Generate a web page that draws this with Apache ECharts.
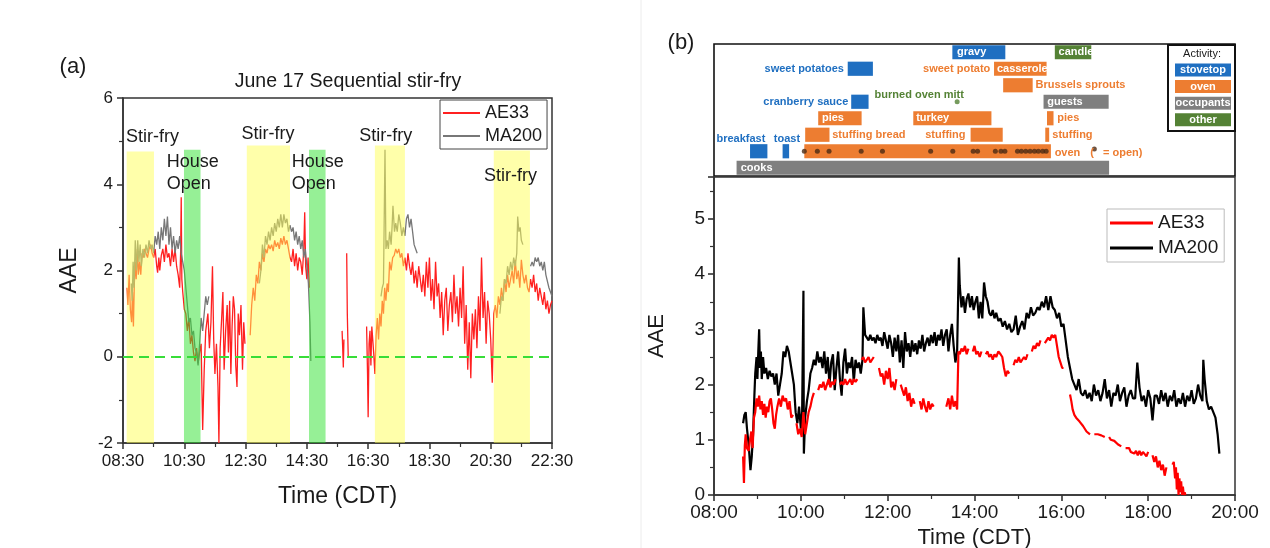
<!DOCTYPE html>
<html>
<head>
<meta charset="utf-8">
<script src="https://cdn.jsdelivr.net/npm/echarts@6/dist/echarts.min.js"></script>
<style>
html,body{margin:0;padding:0;background:#fff;}
#chart{width:1270px;height:548px;}
</style>
</head>
<body>
<div id="chart"></div>
<script>
// ---------- Panel (a): June 17 sequential stir-fry, [clock hour, AAE] ----------
const ae33A = [
[8.63,1.6],[8.66,1.2],[8.70,1.9],[8.74,1.1],[8.78,0.8],[8.81,1.5],[8.84,0.7],[8.87,1.7],[8.90,2.2],[8.93,1.8],
[8.97,2.5],[9.00,1.9],[9.04,2.2],[9.08,1.9],[9.12,2.4],[9.16,2.3],[9.20,2.5],[9.25,2.4],[9.30,2.3],[9.35,2.5],
[9.40,2.6],[9.45,2.4],[9.50,2.3],[9.55,2.5],[9.60,2.1],[9.63,1.95],[9.67,2.3],[9.70,2.0],[9.75,2.35],[9.80,2.5],
[9.85,2.2],[9.90,2.6],[9.95,2.3],[10.00,2.4],[10.05,2.1],[10.10,2.5],[10.15,2.2],[10.20,2.5],[10.25,2.1],[10.30,1.9],
[10.35,1.6],[10.38,2.4],[10.40,3.7],[10.42,1.8],[10.45,1.5],[10.50,1.1],[10.55,1.0],[10.60,0.6],[10.65,0.9],[10.70,0.3],
[10.75,0.5],[10.80,0.1],[10.85,-0.1],[10.90,0.2],[10.95,-0.15],[11.00,0.1],[11.05,0.3],[11.10,-1.7],[11.15,-0.3],[11.20,0.6],
[11.27,1.0],[11.32,0.2],[11.37,0.8],[11.42,2.1],[11.46,0.4],[11.50,-0.4],[11.55,0.3],[11.60,-0.7],[11.63,-2.0],[11.67,0.2],
[11.72,0.9],[11.76,1.5],[11.80,-0.3],[11.85,0.6],[11.90,1.2],[11.94,0.1],[11.98,1.3],[12.02,-0.4],[12.06,0.7],[12.10,1.4],
[12.14,1.1],[12.18,-0.2],[12.22,-0.7],[12.26,1.0],[12.30,0.5],[12.35,1.2],[12.40,-0.3],[12.44,0.8],[12.48,0.3],[12.52,null],
[12.65,0.5],[12.70,1.2],[12.75,1.6],[12.80,1.3],[12.85,1.9],[12.90,1.7],[12.95,2.2],[13.00,2.0],[13.05,2.4],[13.10,2.2],
[13.15,2.5],[13.20,2.4],[13.25,2.6],[13.30,2.5],[13.35,2.6],[13.40,2.45],[13.45,2.7],[13.50,2.55],[13.55,2.65],[13.60,2.5],
[13.65,2.75],[13.70,2.6],[13.75,2.8],[13.80,2.6],[13.85,2.7],[13.90,2.5],[13.95,2.3],[14.00,2.2],[14.05,2.5],[14.10,2.1],
[14.15,2.4],[14.20,2.0],[14.25,2.3],[14.30,2.2],[14.35,1.9],[14.40,2.5],[14.43,3.35],[14.46,2.1],[14.50,1.8],[14.54,2.3],
[14.58,1.6],[14.60,null],
[15.65,0.6],[15.67,0.2],[15.69,-0.25],[15.71,0.4],[15.73,null],
[15.80,2.4],[15.82,1.0],[15.85,0.0],[15.87,null],
[16.45,0.7],[16.48,-0.4],[16.50,-1.4],[16.53,0.3],[16.56,0.6],[16.59,-0.2],[16.62,0.7],[16.65,0.4],[16.68,0.1],[16.72,-0.4],
[16.76,0.5],[16.80,0.9],[16.84,0.4],[16.88,1.0],[16.92,0.7],[16.96,1.3],[17.00,1.0],[17.04,1.6],[17.08,1.3],[17.12,1.7],
[17.16,1.5],[17.20,2.2],[17.25,2.0],[17.30,2.3],[17.35,2.35],[17.40,2.5],[17.45,2.4],[17.50,2.5],[17.55,2.3],[17.60,2.4],
[17.65,2.1],[17.70,2.3],[17.75,2.0],[17.80,2.4],[17.85,2.1],[17.90,1.9],[17.95,2.2],[18.00,1.7],[18.05,2.0],[18.10,1.6],
[18.15,2.1],[18.20,1.8],[18.25,1.5],[18.30,1.9],[18.35,1.4],[18.40,2.2],[18.45,1.6],[18.50,2.3],[18.55,1.3],[18.60,1.8],
[18.65,1.1],[18.70,2.2],[18.75,1.4],[18.80,1.7],[18.85,0.9],[18.90,1.5],[18.95,0.5],[19.00,1.3],[19.05,1.6],[19.10,0.6],
[19.15,1.2],[19.20,1.5],[19.25,0.8],[19.30,1.9],[19.35,1.0],[19.40,1.4],[19.45,0.7],[19.50,1.6],[19.55,0.9],[19.60,2.1],
[19.65,0.3],[19.70,1.2],[19.75,-0.3],[19.80,0.8],[19.85,-0.5],[19.90,1.0],[19.95,0.4],[20.00,1.1],[20.05,0.2],[20.10,1.4],
[20.15,0.6],[20.20,2.3],[20.25,0.9],[20.30,1.5],[20.35,0.3],[20.40,1.3],[20.45,1.0],[20.50,0.4],[20.55,-0.6],[20.60,1.0],
[20.65,1.2],[20.70,0.9],[20.75,1.4],[20.80,1.2],[20.85,1.6],[20.90,1.3],[20.95,1.8],[21.00,1.5],[21.05,1.9],[21.10,1.6],
[21.15,1.8],[21.20,2.0],[21.25,1.7],[21.30,2.25],[21.35,1.8],[21.40,2.0],[21.45,1.6],[21.50,2.25],[21.55,1.9],[21.60,1.7],
[21.65,1.9],[21.70,1.6],[21.75,1.5],[21.80,1.8],[21.85,1.6],[21.90,1.9],[21.95,1.5],[22.00,1.7],[22.05,1.3],[22.10,1.6],
[22.15,1.4],[22.20,1.2],[22.25,1.5],[22.30,1.1],[22.35,1.3],[22.40,1.0],[22.45,1.2],[22.50,1.3]
];

const ma200A = [
[8.77,1.7],[8.80,1.3],[8.83,2.2],[8.86,1.6],[8.90,2.7],[8.94,2.0],[8.98,2.7],[9.02,2.2],[9.06,2.6],[9.10,2.1],
[9.15,2.5],[9.20,2.3],[9.25,2.6],[9.30,2.4],[9.35,2.7],[9.40,2.5],[9.45,2.6],[9.50,2.4],[9.55,2.8],[9.60,2.6],
[9.65,2.9],[9.70,2.5],[9.75,3.0],[9.80,2.7],[9.85,3.2],[9.90,2.8],[9.95,3.25],[10.00,2.6],[10.05,3.0],[10.10,2.5],
[10.15,2.8],[10.20,2.4],[10.25,2.7],[10.30,2.5],[10.35,2.8],[10.40,2.4],[10.45,2.2],[10.50,2.0],[10.55,2.0],[10.60,1.2],
[10.65,0.8],[10.70,0.9],[10.75,0.5],[10.80,0.6],[10.85,0.2],[10.90,0.1],[10.95,-0.2],[11.00,0.3],[11.05,0.9],[11.10,0.6],
[11.15,1.0],[11.20,1.4],[11.25,1.2],[11.30,1.4],[11.32,null],
[12.95,1.7],[13.00,2.0],[13.05,2.6],[13.10,2.3],[13.15,2.8],[13.20,2.6],[13.25,2.9],[13.30,2.7],[13.35,3.0],[13.40,2.8],
[13.45,3.1],[13.50,2.9],[13.55,3.2],[13.60,3.0],[13.65,3.3],[13.70,3.0],[13.75,3.3],[13.80,3.1],[13.85,3.2],[13.90,2.9],
[13.95,3.05],[14.00,2.9],[14.05,3.0],[14.10,2.7],[14.15,2.9],[14.20,2.6],[14.25,2.8],[14.30,2.5],[14.35,2.7],[14.40,2.3],
[14.45,2.5],[14.50,2.1],[14.55,1.7],[14.60,0.8],[14.63,-0.1],[14.65,null],
[16.92,1.4],[16.96,1.6],[17.00,1.7],[17.05,4.8],[17.08,2.5],[17.12,2.7],[17.16,2.5],[17.20,2.9],[17.25,2.6],[17.28,3.0],
[17.31,3.5],[17.36,2.9],[17.40,3.1],[17.45,2.9],[17.50,3.3],[17.55,3.1],[17.60,2.8],[17.65,3.0],[17.70,2.8],[17.75,3.2],
[17.80,3.3],[17.85,3.0],[17.90,3.2],[17.95,2.9],[18.00,2.6],[18.05,2.5],[18.10,2.4],[18.12,null],
[20.80,1.0],[20.85,1.4],[20.90,1.3],[20.95,1.8],[21.00,1.7],[21.05,2.1],[21.10,1.9],[21.15,2.2],[21.20,2.0],[21.25,2.3],
[21.30,2.1],[21.35,2.4],[21.38,3.25],[21.42,2.9],[21.46,3.0],[21.50,2.7],[21.55,2.6],[21.57,null],
[21.80,2.1],[21.85,2.2],[21.90,2.1],[21.95,2.3],[22.00,2.2],[22.05,2.3],[22.10,2.1],[22.15,2.2],[22.20,2.0],[22.25,2.2],
[22.30,1.9],[22.40,1.6],[22.45,1.5],[22.50,1.4]
];

// shaded periods: [start hour, end hour, top AAE, kind]
const periodsA = [
[8.62, 9.51, 4.76, 'stir'],
[10.49, 11.03, 4.80, 'open'],
[12.54, 13.95, 4.90, 'stir'],
[14.57, 15.11, 4.80, 'open'],
[16.72, 17.70, 4.90, 'stir'],
[20.60, 21.78, 4.78, 'stir']
];

// period captions: [hour, AAE, text]
const notesA = [
[8.60, 5.09, 'Stir-fry'],
[9.93, 4.26, 'House\nOpen'],
[12.37, 5.16, 'Stir-fry'],
[14.01, 4.26, 'House\nOpen'],
[16.21, 5.11, 'Stir-fry'],
[20.28, 4.18, 'Stir-fry']
];

// ---------- Panel (b): Thanksgiving cooking day ----------
const ae33B = [
[8.67,0.7],[8.69,0.22],[8.71,0.9],[8.73,1.1],[8.76,0.85],[8.80,0.8],[8.83,1.0],[8.86,1.15],[8.89,0.85],[8.92,1.4],
[8.95,1.5],[8.98,1.75],[9.01,1.6],[9.04,1.8],[9.07,1.55],[9.10,1.7],[9.13,1.45],[9.16,1.65],[9.19,1.4],[9.22,1.6],
[9.25,1.5],[9.28,1.7],[9.31,1.75],[9.34,1.55],[9.37,1.3],[9.40,1.2],[9.43,1.45],[9.46,1.6],[9.50,1.75],[9.54,1.6],
[9.58,1.8],[9.62,1.7],[9.66,1.75],[9.70,1.55],[9.74,1.7],[9.78,1.4],[9.82,1.45],[9.86,null],[9.90,1.3],[9.94,1.1],
[9.98,1.2],[10.02,1.05],[10.06,1.5],[10.10,1.1],[10.14,1.3],[10.18,1.5],[10.22,1.6],[10.26,1.75],[10.30,1.85],[10.34,null],
[10.40,1.9],[10.44,2.0],[10.48,1.95],[10.52,2.05],[10.56,1.9],[10.60,2.0],[10.64,2.1],[10.68,1.95],[10.72,2.05],[10.76,2.0],
[10.80,2.1],[10.84,null],[10.90,2.0],[10.94,2.05],[10.98,2.0],[11.02,2.1],[11.06,2.0],[11.10,2.05],[11.14,2.1],[11.18,2.0],
[11.22,2.1],[11.26,2.05],[11.30,2.1],[11.34,null],[11.40,2.45],[11.44,2.5],[11.48,2.4],[11.52,2.45],[11.56,2.5],[11.60,2.4],
[11.64,2.45],[11.68,2.5],[11.72,null],[11.80,2.3],[11.84,2.15],[11.88,2.2],[11.92,2.0],[11.96,2.25],[12.00,2.1],[12.04,2.3],
[12.08,1.95],[12.12,2.05],[12.16,1.9],[12.20,2.1],[12.24,null],[12.30,2.0],[12.34,1.9],[12.38,1.8],[12.42,1.95],[12.46,1.7],
[12.50,1.85],[12.54,1.6],[12.58,1.75],[12.62,1.65],[12.66,null],[12.74,1.7],[12.78,1.55],[12.82,1.75],[12.86,1.6],[12.90,1.5],
[12.94,1.7],[12.98,1.55],[13.02,1.65],[13.06,1.6],[13.10,null],[13.35,1.6],[13.40,1.75],[13.44,1.55],[13.48,1.8],[13.52,1.6],
[13.56,1.7],[13.60,1.55],[13.63,2.6],[13.66,2.55],[13.70,2.65],[13.74,2.6],[13.78,2.7],[13.82,2.55],[13.86,2.65],[13.90,null],
[13.96,2.6],[14.00,2.7],[14.04,2.55],[14.08,2.6],[14.12,2.5],[14.16,2.6],[14.20,null],[14.26,2.55],[14.30,2.6],[14.34,2.5],
[14.38,2.55],[14.42,2.45],[14.46,2.55],[14.50,2.5],[14.55,2.6],[14.60,2.55],[14.64,2.5],[14.68,2.3],[14.72,2.15],[14.76,2.25],
[14.80,2.2],[14.84,null],[14.90,2.35],[14.94,2.45],[14.98,2.4],[15.02,2.5],[15.06,2.4],[15.10,2.45],[15.14,2.5],[15.18,2.45],
[15.22,2.55],[15.26,null],[15.32,2.6],[15.36,2.7],[15.40,2.65],[15.44,2.75],[15.48,2.7],[15.52,2.8],[15.56,null],[15.62,2.75],
[15.66,2.8],[15.70,2.85],[15.74,2.8],[15.78,2.9],[15.82,2.85],[15.86,2.9],[15.90,2.7],[15.94,2.5],[15.98,2.4],[16.02,2.3],
[16.05,2.3],[16.07,null],[16.20,1.82],[16.23,1.7],[16.26,1.55],[16.30,1.45],[16.34,1.4],[16.38,1.38],[16.42,1.33],[16.46,1.3],
[16.50,1.25],[16.54,1.2],[16.58,1.15],[16.62,1.12],[16.66,1.1],[16.70,null],[16.76,1.1],[16.80,1.12],[16.84,1.1],[16.88,1.1],
[16.92,1.08],[16.96,1.1],[17.00,1.05],[17.04,null],[17.10,1.05],[17.14,1.0],[17.18,1.02],[17.22,0.98],[17.26,0.95],[17.30,0.92],
[17.34,0.9],[17.38,0.88],[17.42,null],[17.48,0.85],[17.52,0.82],[17.56,0.85],[17.60,0.78],[17.64,0.8],[17.68,0.75],[17.72,0.8],
[17.76,0.72],[17.80,0.8],[17.84,0.72],[17.88,0.78],[17.92,0.75],[17.96,0.7],[18.00,0.78],[18.04,null],[18.10,0.72],[18.14,0.6],
[18.18,0.7],[18.22,0.5],[18.26,0.62],[18.30,0.45],[18.34,0.55],[18.38,0.35],[18.42,0.5],[18.46,null],[18.56,0.55],[18.59,0.6],
[18.62,0.3],[18.64,0.5],[18.66,0.1],[18.68,0.4],[18.70,0.0],[18.72,0.3],[18.74,0.05],[18.76,0.25],[18.78,0.0],[18.80,0.15],
[18.82,0.0],[18.84,0.05],[18.86,0.0]
];

const ma200B = [
[8.67,1.3],[8.70,1.45],[8.73,1.5],[8.76,1.2],[8.80,0.9],[8.84,0.45],[8.87,0.7],[8.90,1.1],[8.93,1.8],[8.95,2.2],
[8.98,2.5],[9.00,2.1],[9.02,2.6],[9.04,3.0],[9.06,2.3],[9.08,2.6],[9.10,2.1],[9.13,2.5],[9.16,2.2],[9.20,2.3],
[9.24,2.1],[9.28,2.25],[9.32,2.15],[9.36,2.2],[9.40,2.0],[9.44,2.2],[9.48,1.8],[9.52,2.0],[9.56,2.2],[9.60,2.6],
[9.64,2.5],[9.68,2.7],[9.72,2.6],[9.76,2.4],[9.80,2.2],[9.84,2.0],[9.88,1.5],[9.92,1.3],[9.96,1.6],[10.00,1.2],
[10.03,1.5],[10.06,3.7],[10.07,0.75],[10.10,1.4],[10.14,1.7],[10.18,1.9],[10.22,2.2],[10.26,2.3],[10.30,2.45],[10.34,2.35],
[10.38,2.6],[10.42,2.4],[10.46,2.5],[10.50,2.3],[10.54,2.6],[10.58,2.2],[10.62,2.5],[10.66,2.0],[10.70,2.4],[10.74,2.55],
[10.78,1.9],[10.82,2.3],[10.86,2.6],[10.90,2.1],[10.94,1.8],[10.98,2.4],[11.02,2.65],[11.06,2.2],[11.10,2.4],[11.14,2.3],
[11.18,2.5],[11.22,2.05],[11.26,2.45],[11.30,2.3],[11.34,2.4],[11.38,2.2],[11.42,2.45],[11.44,3.4],[11.48,2.9],[11.52,2.85],
[11.56,2.8],[11.60,2.9],[11.64,2.8],[11.68,2.85],[11.72,2.75],[11.76,2.9],[11.80,2.8],[11.84,2.85],[11.88,2.7],[11.92,2.95],
[11.96,2.8],[12.00,2.65],[12.04,2.9],[12.08,2.75],[12.12,2.5],[12.16,2.85],[12.20,2.6],[12.24,2.9],[12.28,2.4],[12.32,2.8],
[12.36,2.3],[12.40,2.95],[12.44,2.6],[12.48,2.75],[12.52,2.5],[12.56,2.8],[12.60,2.6],[12.64,2.75],[12.68,2.55],[12.72,2.8],
[12.76,2.65],[12.80,2.9],[12.84,2.6],[12.88,2.75],[12.92,2.85],[12.96,2.7],[13.00,2.9],[13.04,2.75],[13.08,2.95],[13.12,2.7],
[13.16,2.9],[13.20,2.8],[13.24,3.0],[13.28,2.7],[13.32,2.9],[13.36,3.0],[13.40,2.6],[13.44,2.9],[13.48,3.1],[13.52,2.7],
[13.56,2.4],[13.60,2.6],[13.64,4.3],[13.66,3.8],[13.70,3.4],[13.74,3.6],[13.78,3.3],[13.82,3.55],[13.86,3.65],[13.90,3.4],
[13.94,3.6],[13.98,3.35],[14.02,3.5],[14.06,3.6],[14.10,3.2],[14.14,3.5],[14.18,3.2],[14.22,3.85],[14.26,3.6],[14.30,3.5],
[14.34,3.3],[14.38,3.25],[14.42,3.35],[14.46,3.2],[14.50,3.3],[14.55,3.15],[14.60,3.2],[14.65,3.05],[14.70,3.15],[14.75,3.0],
[14.80,3.1],[14.85,2.95],[14.90,3.0],[14.95,3.25],[15.00,2.9],[15.05,3.05],[15.10,3.15],[15.15,3.0],[15.20,3.3],[15.25,3.2],
[15.30,3.4],[15.35,3.25],[15.40,3.3],[15.45,3.4],[15.50,3.35],[15.55,3.5],[15.60,3.4],[15.65,3.6],[15.70,3.35],[15.75,3.6],
[15.80,3.4],[15.85,3.35],[15.90,3.2],[15.95,3.3],[16.00,3.05],[16.05,3.1],[16.10,2.8],[16.15,2.5],[16.20,2.3],[16.25,2.1],
[16.30,2.0],[16.35,1.9],[16.40,2.1],[16.45,1.85],[16.50,1.8],[16.55,1.9],[16.60,1.75],[16.65,1.85],[16.70,1.7],[16.75,2.0],
[16.80,1.8],[16.85,1.9],[16.90,1.7],[16.95,1.85],[17.00,2.1],[17.05,1.75],[17.10,1.9],[17.15,1.6],[17.20,1.85],[17.25,1.8],
[17.30,2.0],[17.35,1.7],[17.40,1.85],[17.45,1.95],[17.50,1.6],[17.55,1.8],[17.60,1.9],[17.65,1.75],[17.70,1.75],[17.75,2.4],
[17.80,1.95],[17.85,1.7],[17.90,1.8],[17.95,1.6],[18.00,1.9],[18.05,1.75],[18.10,1.35],[18.15,1.8],[18.20,1.8],[18.25,1.65],
[18.30,1.9],[18.35,1.7],[18.40,1.85],[18.45,1.6],[18.50,1.8],[18.55,1.7],[18.60,1.9],[18.65,1.6],[18.70,1.75],[18.75,1.65],
[18.80,1.85],[18.85,1.6],[18.90,1.8],[18.95,1.7],[19.00,1.9],[19.05,1.65],[19.10,1.75],[19.15,2.0],[19.20,1.8],[19.25,1.7],
[19.27,2.45],[19.30,2.1],[19.35,1.7],[19.40,1.55],[19.45,1.6],[19.50,1.5],[19.55,1.4],[19.60,1.1],[19.64,0.75]
];

// activity categories
const activityKinds = ['stovetop', 'oven', 'occupants', 'other'];
const activityColors = ['#1f6fc1', '#ed7d31', '#7f7f7f', '#548235'];

// activity bars: [start hour, end hour, row, kind index]
const activityBars = [
[8.52, 17.10, 0, 2],   // cooks
[8.83, 9.23, 1, 0],    // breakfast
[9.58, 9.73, 1, 0],    // toast
[10.08, 15.76, 1, 1],  // oven
[10.10, 10.66, 2, 1],  // stuffing bread
[13.91, 14.65, 2, 1],  // stuffing
[15.63, 15.72, 2, 1],  // stuffing
[10.40, 11.40, 3, 1],  // pies
[12.59, 14.39, 3, 1],  // turkey
[15.67, 15.82, 3, 1],  // pies
[11.16, 11.56, 4, 0],  // cranberry sauce
[15.59, 17.09, 4, 2],  // guests
[14.66, 15.34, 5, 1],  // Brussels sprouts
[11.08, 11.66, 6, 0],  // sweet potatoes
[14.45, 15.66, 6, 1],  // sweet potato casserole
[13.49, 14.71, 7, 0],  // gravy
[15.85, 16.69, 7, 3]   // candle
];

// activity captions: [hour, row position, text, kind index (-1 = white), anchor]
const activityLabels = [
[8.57, 0.5, 'cooks', -1, 'left'],
[9.23, 2.22, 'breakfast', 0, 'right'],
[9.68, 2.22, 'toast', 0, 'center'],
[15.80, 1.4, 'oven', 1, 'left'],
[16.62, 1.4, '(   = open)', 1, 'left'],
[10.675, 2.5, 'stuffing bread', 1, 'left'],
[13.84, 2.5, 'stuffing', 1, 'right'],
[15.745, 2.5, 'stuffing', 1, 'left'],
[10.44, 3.5, 'pies', -1, 'left'],
[12.61, 3.5, 'turkey', -1, 'left'],
[15.86, 3.5, 'pies', 1, 'left'],
[11.14, 4.5, 'cranberry sauce', 0, 'right'],
[15.63, 4.5, 'guests', -1, 'left'],
[13.80, 4.91, 'burned oven mitt', 3, 'right'],
[15.36, 5.5, 'Brussels sprouts', 1, 'left'],
[11.04, 6.5, 'sweet potatoes', 0, 'right'],
[14.41, 6.5, 'sweet potato', 1, 'right'],
[14.47, 6.5, 'casserole', -1, 'left'],
[13.55, 7.5, 'gravy', -1, 'left'],
[15.89, 7.5, 'candle', -1, 'left']
];

// oven door openings (hour)
const ovenOpenings = [10.08, 10.38, 10.65, 11.39, 11.88, 12.99, 13.50, 13.97, 14.07, 14.48, 14.61, 14.70,
  14.99, 15.08, 15.18, 15.28, 15.38, 15.47, 15.57, 15.65];
const ovenRow = 1.5;
const openKeyMark = [16.76, 1.64];
const burnedMitt = [13.60, 4.5];

// ---------- drawing ----------
const FONT = '"Liberation Sans", Arial, Helvetica, sans-serif';
const INK = '#1a1a1a';
const startA = 8.5, startB = 8;
const yMinA = -2;

function clock(v, start) {
  const total = Math.round((start + v) * 60);
  const h = Math.floor(total / 60), m = total % 60;
  return String(h).padStart(2, '0') + ':' + String(m).padStart(2, '0');
}
const shift = (arr, start) => arr.map(([h, v]) => [+(h - start).toFixed(4), v === null ? '-' : v]);

const chart = echarts.init(document.getElementById('chart'));

function axisBase(color, width) {
  return {
    axisLine: {show: true, onZero: false, lineStyle: {color: color, width: width}},
    axisTick: {show: true, inside: false, length: 6, lineStyle: {color: color, width: width}},
    minorTick: {show: true, splitNumber: 2, length: 4, lineStyle: {color: color, width: 1.2}},
    splitLine: {show: false}
  };
}

const option = {
  animation: false,
  backgroundColor: '#ffffff',
  textStyle: {fontFamily: FONT},
  grid: [
    {left: 123, top: 98, width: 429, height: 345, show: true, borderColor: '#333', borderWidth: 1.5,
      containLabel: false, outerBoundsMode: 'none'},
    {left: 714, top: 44, width: 521, height: 132, show: true, borderColor: '#111', borderWidth: 1.6,
      containLabel: false, outerBoundsMode: 'none'},
    {left: 714, top: 177, width: 521, height: 318, show: true, borderColor: '#333', borderWidth: 1.5,
      containLabel: false, outerBoundsMode: 'none'}
  ],
  xAxis: [
    Object.assign(axisBase('#333', 1.5), {
      gridIndex: 0, type: 'value', min: 0, max: 14, interval: 2,
      axisLabel: {margin: 10, fontSize: 17, color: INK, fontFamily: FONT, formatter: v => clock(v, startA)},
      name: 'Time (CDT)', nameLocation: 'middle', nameGap: 42,
      nameTextStyle: {fontSize: 23, color: INK, fontFamily: FONT}
    }),
    {gridIndex: 1, type: 'value', min: 0, max: 12, show: false},
    Object.assign(axisBase('#333', 1.6), {
      gridIndex: 2, type: 'value', min: 0, max: 12, interval: 2,
      axisLabel: {margin: 8, fontSize: 19, color: INK, fontFamily: FONT, formatter: v => clock(v, startB)},
      name: 'Time (CDT)', nameLocation: 'middle', nameGap: 30,
      nameTextStyle: {fontSize: 22, color: INK, fontFamily: FONT}
    })
  ],
  yAxis: [
    Object.assign(axisBase('#333', 1.5), {
      gridIndex: 0, type: 'value', min: yMinA, max: 6, interval: 2,
      axisLabel: {margin: 10, fontSize: 17, color: INK, fontFamily: FONT},
      name: 'AAE', nameLocation: 'middle', nameGap: 42, nameRotate: 90,
      nameTextStyle: {fontSize: 23, color: INK, fontFamily: FONT}
    }),
    {gridIndex: 1, type: 'value', min: 0, max: 8, show: false},
    Object.assign(axisBase('#333', 1.6), {
      gridIndex: 2, type: 'value', min: 0, max: 5.76, interval: 1,
      axisLabel: {margin: 9, fontSize: 19, color: INK, fontFamily: FONT,
        formatter: v => Number.isInteger(v) ? String(v) : ''},
      name: 'AAE', nameLocation: 'middle', nameGap: 46, nameRotate: 90,
      nameTextStyle: {fontSize: 22, color: INK, fontFamily: FONT}
    })
  ],
  legend: [
    {
      left: 440, top: 100, orient: 'vertical', icon: 'rect', itemWidth: 37, itemHeight: 2, itemGap: 3,
      padding: [3, 5, 3, 3], borderColor: '#444', borderWidth: 1, backgroundColor: '#fff',
      textStyle: {fontSize: 18, lineHeight: 20, color: INK, fontFamily: FONT},
      data: [{name: 'AE33', itemStyle: {color: '#ff2020'}}, {name: 'MA200', itemStyle: {color: '#777'}}]
    },
    {
      left: 1107, top: 209, orient: 'vertical', icon: 'rect', itemWidth: 43, itemHeight: 3, itemGap: 3,
      padding: [3, 6, 3, 3], borderColor: '#bbb', borderWidth: 1, backgroundColor: '#fff',
      textStyle: {fontSize: 19, lineHeight: 22, color: INK, fontFamily: FONT},
      data: [{name: 'AE33', itemStyle: {color: '#ff0000'}}, {name: 'MA200', itemStyle: {color: '#000'}}]
    }
  ],
  graphic: [
    {type: 'line', shape: {x1: 641, y1: 0, x2: 641, y2: 548}, style: {stroke: '#ececec', lineWidth: 1}, silent: true},
    {type: 'text', x: 73, y: 67, style: {text: '(a)', font: `22px ${FONT}`, fill: INK, align: 'center', verticalAlign: 'middle'}},
    {type: 'text', x: 681, y: 43, style: {text: '(b)', font: `22px ${FONT}`, fill: INK, align: 'center', verticalAlign: 'middle'}},
    {type: 'text', x: 348, y: 82, style: {text: 'June 17 Sequential stir-fry', font: `19.5px ${FONT}`, fill: INK, align: 'center', verticalAlign: 'middle'}},
    {
      type: 'group', left: 1167, top: 44, children: [
        {type: 'rect', shape: {x: 0, y: 0, width: 67, height: 86}, style: {fill: '#fff', stroke: '#111', lineWidth: 2}},
        {type: 'text', x: 34, y: 9, style: {text: 'Activity:', font: `11px ${FONT}`, fill: INK, align: 'center', verticalAlign: 'middle'}}
      ].concat(...activityKinds.map((k, i) => [
        {type: 'rect', shape: {x: 7, y: 18.5 + i * 16.6, width: 56, height: 13}, style: {fill: activityColors[i]}},
        {type: 'text', x: 35, y: 25 + i * 16.6, style: {text: k, font: `bold 11px ${FONT}`, fill: '#fff', align: 'center', verticalAlign: 'middle'}}
      ]))
    }
  ],
  series: [
    {
      name: 'AE33', type: 'line', xAxisIndex: 0, yAxisIndex: 0, data: shift(ae33A, startA),
      showSymbol: false, connectNulls: false, lineStyle: {color: '#ff2020', width: 1.3}, itemStyle: {color: '#ff2020'},
      z: 2
    },
    {
      name: 'MA200', type: 'line', xAxisIndex: 0, yAxisIndex: 0, data: shift(ma200A, startA),
      showSymbol: false, connectNulls: false, lineStyle: {color: '#777', width: 1.3}, itemStyle: {color: '#777'},
      z: 2,
      markLine: {
        silent: true, symbol: 'none', z: 6, label: {show: false},
        lineStyle: {color: '#38dd38', type: [10, 6], width: 2},
        data: [{yAxis: 0}]
      }
    },
    {
      type: 'custom', xAxisIndex: 0, yAxisIndex: 0, z: 4, silent: true,
      data: periodsA.map(([s, e, top]) => [s - startA, e - startA, top]),
      renderItem(params, api) {
        const kind = periodsA[params.dataIndex][3];
        const p0 = api.coord([api.value(0), api.value(2)]);
        const p1 = api.coord([api.value(1), yMinA]);
        return {
          type: 'rect',
          shape: {x: p0[0], y: p0[1], width: p1[0] - p0[0], height: p1[1] - p0[1]},
          style: {fill: kind === 'stir' ? 'rgba(255,255,85,0.5)' : 'rgba(45,225,45,0.5)'}
        };
      }
    },
    {
      type: 'custom', xAxisIndex: 0, yAxisIndex: 0, z: 7, silent: true,
      data: notesA.map(([h, v]) => [h - startA, v]),
      renderItem(params, api) {
        const p = api.coord([api.value(0), api.value(1)]);
        return {
          type: 'text', x: p[0], y: p[1],
          style: {text: notesA[params.dataIndex][2], font: `18px ${FONT}`, fill: INK,
            align: 'left', verticalAlign: 'middle', lineHeight: 22}
        };
      }
    },
    // activity bars
    {
      type: 'custom', xAxisIndex: 1, yAxisIndex: 1, z: 3, silent: true,
      data: activityBars.map(([s, e, r, k]) => [s - startB, e - startB, r, k]),
      renderItem(params, api) {
        const p0 = api.coord([api.value(0), api.value(2) + 0.93]);
        const p1 = api.coord([api.value(1), api.value(2) + 0.07]);
        return {
          type: 'rect',
          shape: {x: p0[0], y: p0[1], width: p1[0] - p0[0], height: p1[1] - p0[1]},
          style: {fill: activityColors[api.value(3)]}
        };
      }
    },
    // oven door openings and burned oven mitt
    {
      type: 'scatter', xAxisIndex: 1, yAxisIndex: 1, z: 4, silent: true, symbolSize: 5,
      itemStyle: {color: '#4b2a14'},
      data: ovenOpenings.map(h => [h - startB, ovenRow]).concat([[openKeyMark[0] - startB, openKeyMark[1]]])
    },
    {
      type: 'scatter', xAxisIndex: 1, yAxisIndex: 1, z: 4, silent: true, symbolSize: 5,
      itemStyle: {color: '#548235'},
      data: [[burnedMitt[0] - startB, burnedMitt[1]]]
    },
    {
      type: 'custom', xAxisIndex: 1, yAxisIndex: 1, z: 5, silent: true,
      data: activityLabels.map(([h, y]) => [h - startB, y]),
      renderItem(params, api) {
        const lab = activityLabels[params.dataIndex];
        const p = api.coord([api.value(0), api.value(1)]);
        const pad = lab[4] === 'left' ? 2 : (lab[4] === 'right' ? -2 : 0);
        return {
          type: 'text', x: p[0] + pad, y: p[1],
          style: {text: lab[2], font: `bold 11px ${FONT}`,
            fill: lab[3] < 0 ? '#ffffff' : activityColors[lab[3]],
            align: lab[4], verticalAlign: 'middle'}
        };
      }
    },
    {
      name: 'MA200', type: 'line', xAxisIndex: 2, yAxisIndex: 2, data: shift(ma200B, startB),
      showSymbol: false, connectNulls: false, lineStyle: {color: '#000', width: 2.2}, itemStyle: {color: '#000'}, z: 2
    },
    {
      name: 'AE33', type: 'line', xAxisIndex: 2, yAxisIndex: 2, data: shift(ae33B, startB),
      showSymbol: false, connectNulls: false, lineStyle: {color: '#ff0000', width: 2.2}, itemStyle: {color: '#ff0000'}, z: 3
    }
  ]
};

chart.setOption(option);
</script>
</body>
</html>
